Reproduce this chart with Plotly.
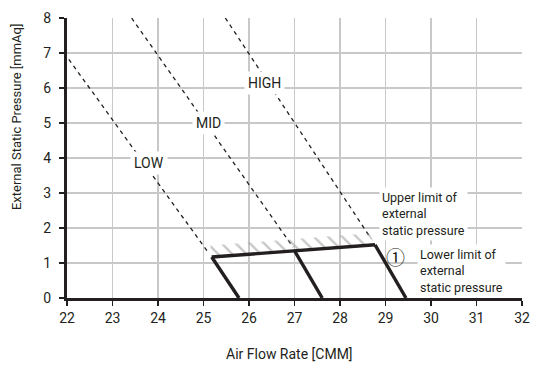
import plotly.graph_objects as go

# ---- data ----
X_TICKS = list(range(22, 33))
Y_TICKS = list(range(0, 9))
X_GRID = list(range(23, 32))
Y_GRID = list(range(1, 8))

# fan curves (dashed)
LOW_X = [22.04, 25.12]
LOW_Y = [6.82, 1.27]
MID_X = [23.42, 26.97]
MID_Y = [8.0, 1.45]
HIGH_X = [25.48, 28.68]
HIGH_Y = [8.0, 1.70]

# upper limit of external static pressure (thick)
UPPER_X = [25.18, 27.0, 28.77]
UPPER_Y = [1.17, 1.35, 1.52]
# drop lines from upper limit to 0
LOW_DROP_X = [25.18, 25.78]
MID_DROP_X = [27.0, 27.61]
HIGH_DROP_X = [28.77, 29.45]
DROP_Y_LOW = [1.17, 0]
DROP_Y_MID = [1.35, 0]
DROP_Y_HIGH = [1.52, 0]

# hatched band above the upper limit
HATCH_X = [25.18, 28.77, 28.65, 25.15]
HATCH_Y = [1.17, 1.52, 1.85, 1.50]

INK = "#231f20"
GRID = "#c8c8c8"
FONT = "Roboto"

fig = go.Figure()

# invisible trace to host the grid axes
fig.add_trace(go.Scatter(x=[22], y=[0], xaxis="x2", yaxis="y2", mode="markers",
                         marker=dict(opacity=0), hoverinfo="skip", showlegend=False))

for xs, ys in [(LOW_X, LOW_Y), (MID_X, MID_Y), (HIGH_X, HIGH_Y)]:
    fig.add_trace(go.Scatter(x=xs, y=ys, mode="lines",
                             line=dict(color=INK, width=1.3, dash="4px,4px"),
                             showlegend=False, hoverinfo="skip"))

fig.add_trace(go.Scatter(x=HATCH_X, y=HATCH_Y, mode="lines", fill="toself",
                         line=dict(width=0), fillcolor="rgba(0,0,0,0)",
                         fillpattern=dict(shape="\\", fgcolor="#909090",
                                          bgcolor="rgba(0,0,0,0)", size=10, solidity=0.24),
                         showlegend=False, hoverinfo="skip"))

thick_x = UPPER_X + [None] + LOW_DROP_X + [None] + MID_DROP_X + [None] + HIGH_DROP_X
thick_y = UPPER_Y + [None] + DROP_Y_LOW + [None] + DROP_Y_MID + [None] + DROP_Y_HIGH
fig.add_trace(go.Scatter(x=thick_x, y=thick_y, mode="lines",
                         line=dict(color=INK, width=3.4), showlegend=False,
                         hoverinfo="skip", cliponaxis=False))

def label(text, x, y, size=14, xanchor="center", align="center", pad=3):
    fig.add_annotation(text=text, x=x, y=y, xref="x", yref="y", showarrow=False,
                       font=dict(family=FONT, size=size, color=INK),
                       bgcolor="white", borderpad=pad, xanchor=xanchor,
                       yanchor="middle", align=align)

label("LOW", 23.81, 3.85)
label("MID", 25.10, 5.0)
label("HIGH", 26.35, 6.13)
label("Upper limit of<br>external<br>static pressure", 28.86, 2.39, size=12.5,
      xanchor="left", align="left", pad=2)
label("Lower limit of<br>external<br>static pressure", 29.70, 0.78, size=12.5,
      xanchor="left", align="left", pad=2)
fig.add_annotation(text="①", x=29.23, y=1.19, xref="x", yref="y", showarrow=False,
                   font=dict(family="Noto Sans CJK JP", size=19, color=INK),
                   xanchor="center", yanchor="middle")

fig.add_annotation(text="Air Flow Rate [CMM]", xref="paper", yref="paper",
                   x=0.49, y=-0.20, showarrow=False, xanchor="center", yanchor="middle",
                   font=dict(family=FONT, size=14, color=INK))
fig.add_annotation(text="External Static Pressure [mmAq]", xref="paper", yref="y",
                   x=-0.112, y=5.17, textangle=-90, showarrow=False,
                   xanchor="center", yanchor="middle",
                   font=dict(family=FONT, size=13, color=INK))

fig.update_layout(
    width=540, height=367,
    margin=dict(l=67, r=10, t=13, b=69),
    paper_bgcolor="white", plot_bgcolor="white",
    font=dict(family=FONT, size=14, color=INK),
    xaxis=dict(range=[22, 32], tickvals=X_TICKS, showgrid=False, zeroline=False,
               showline=True, linecolor=INK, linewidth=3.4,
               ticks="outside", ticklen=5, tickwidth=1.5, tickcolor=INK,
               tickfont=dict(family=FONT, size=14, color=INK)),
    yaxis=dict(range=[0, 8], tickvals=Y_TICKS, showgrid=False, zeroline=False,
               showline=True, linecolor=INK, linewidth=3,
               ticks="outside", ticklen=5, tickwidth=1.5, tickcolor=INK,
               ticklabelstandoff=5,
               tickfont=dict(family=FONT, size=14, color=INK)),
    xaxis2=dict(range=[22, 32], overlaying="x", anchor="y2", tickvals=X_GRID,
                showgrid=True, gridcolor=GRID, gridwidth=1.3, showticklabels=False,
                ticks="", showline=False, zeroline=False),
    yaxis2=dict(range=[0, 8], overlaying="y", anchor="x2", tickvals=Y_GRID,
                showgrid=True, gridcolor=GRID, gridwidth=1.3, showticklabels=False,
                ticks="", showline=False, zeroline=False),
)

fig.write_html("out.html", config={"displayModeBar": False, "staticPlot": True},
               post_script="document.body.style.margin='0';document.body.style.overflow='hidden';")
